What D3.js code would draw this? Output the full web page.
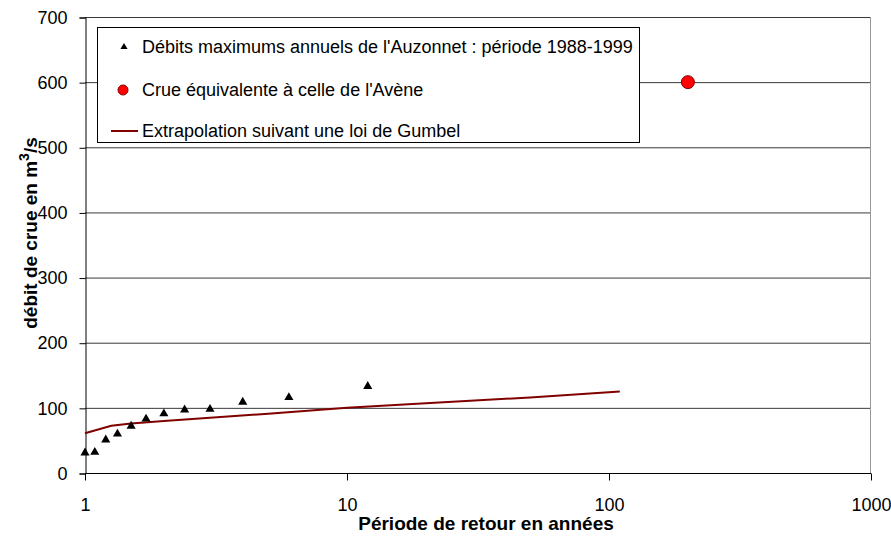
<!DOCTYPE html>
<html>
<head>
<meta charset="utf-8">
<script src="https://cdn.jsdelivr.net/npm/d3@7"></script>
<style>
  body { margin: 0; background: #fff; }
  text { font-family: "Liberation Sans", Arial, sans-serif; }
</style>
</head>
<body>
<script>
// Annual maximum flows (return period in years, flow in m3/s)
var obsPeriod = [1, 1.09, 1.2, 1.33, 1.5, 1.71, 2, 2.4, 3, 4, 6, 12];
var obsFlow = [31, 32, 51, 60, 72, 83, 91, 97, 98, 109, 116, 133];

// Equivalent flood (Avène)
var avenePeriod = [200];
var aveneFlow = [600];

// Gumbel extrapolation
var gumbelPeriod = [1, 1.26, 1.5, 2, 3, 5, 10, 20, 50, 110];
var gumbelFlow = [61, 72.5, 76, 80, 85, 91, 100, 107, 116, 125];

var xTicks = [1, 10, 100, 1000];
var yTicks = [0, 100, 200, 300, 400, 500, 600, 700];

var legendLabels = [
  "Débits maximums annuels de l'Auzonnet : période 1988-1999",
  "Crue équivalente à celle de l'Avène",
  "Extrapolation suivant une loi de Gumbel"
];

var width = 891, height = 536;
var margin = {left: 85, right: 20, top: 17, bottom: 63};

var svg = d3.select("body").append("svg")
    .attr("width", width)
    .attr("height", height);

var x = d3.scaleLog().domain([1, 1000]).range([margin.left, width - margin.right]);
var y = d3.scaleLinear().domain([0, 700]).range([height - margin.bottom, margin.top]);

// gridlines
svg.append("g")
  .selectAll("line")
  .data(yTicks.filter(function(d) { return d > 0; }))
  .enter().append("line")
    .attr("x1", x(1)).attr("x2", x(1000))
    .attr("y1", function(d) { return y(d) + 0.5; })
    .attr("y2", function(d) { return y(d) + 0.5; })
    .attr("stroke", "#3a3a3a");

// right border
svg.append("line")
  .attr("x1", x(1000) - 0.5).attr("x2", x(1000) - 0.5)
  .attr("y1", y(700)).attr("y2", y(0))
  .attr("stroke", "#999");

// y axis
var yAxis = svg.append("g")
  .attr("transform", "translate(" + (x(1) + 0.5) + ",0.5)")
  .call(d3.axisLeft(y).tickValues(yTicks).tickSize(6).tickPadding(12));

// x axis
var xAxis = svg.append("g")
  .attr("transform", "translate(0," + (y(0) + 0.5) + ")")
  .call(d3.axisBottom(x).tickValues(xTicks).tickFormat(d3.format("d")).tickSize(7).tickPadding(18));

[yAxis, xAxis].forEach(function(g) {
  g.select(".domain").attr("stroke", "#000");
  g.selectAll(".tick line").attr("stroke", "#000");
  g.selectAll(".tick text").style("font-size", "18px").attr("fill", "#000");
});
xAxis.select(".domain").attr("d", "M" + x(1) + ",0H" + x(1000));

// axis titles
svg.append("text")
  .attr("x", 486)
  .attr("y", 530)
  .attr("text-anchor", "middle")
  .style("font-size", "19px")
  .style("font-weight", "bold")
  .text("Période de retour en années");

var yTitle = svg.append("text")
  .attr("transform", "translate(37,233) rotate(-90)")
  .attr("text-anchor", "middle")
  .style("font-size", "19px")
  .style("font-weight", "bold");
yTitle.append("tspan").text("débit de crue en m");
yTitle.append("tspan").attr("dy", -8).style("font-size", "14px").text("3");
yTitle.append("tspan").attr("dy", 8).text("/s");

// Gumbel line
var gumbel = gumbelPeriod.map(function(t, i) { return [t, gumbelFlow[i]]; });
svg.append("path")
  .datum(gumbel)
  .attr("fill", "none")
  .attr("stroke", "#800000")
  .attr("stroke-width", 2)
  .attr("d", d3.line().x(function(d) { return x(d[0]); }).y(function(d) { return y(d[1]); }));

// observed points
var tri = d3.symbol().type(d3.symbolTriangle).size(36);
svg.append("g")
  .selectAll("path")
  .data(obsPeriod.map(function(t, i) { return [t, obsFlow[i]]; }))
  .enter().append("path")
    .attr("d", tri)
    .attr("transform", function(d) { return "translate(" + x(d[0]) + "," + y(d[1]) + ")"; })
    .attr("fill", "#000");

// Avène point
svg.append("g")
  .selectAll("circle")
  .data(avenePeriod.map(function(t, i) { return [t, aveneFlow[i]]; }))
  .enter().append("circle")
    .attr("cx", function(d) { return x(d[0]); })
    .attr("cy", function(d) { return y(d[1]); })
    .attr("r", 6.5)
    .attr("fill", "#ff0000")
    .attr("stroke", "#800000")
    .attr("stroke-width", 1);

// legend
var legend = svg.append("g");
legend.append("rect")
  .attr("x", 97.5).attr("y", 27.5)
  .attr("width", 542).attr("height", 115)
  .attr("fill", "#fff")
  .attr("stroke", "#000");

var rowY = [47, 90, 131];
legendLabels.forEach(function(lab, i) {
  legend.append("text")
    .attr("x", 142).attr("y", rowY[i])
    .attr("dy", "0.35em")
    .style("font-size", "18px")
    .text(lab);
});
legend.append("path")
  .attr("d", d3.symbol().type(d3.symbolTriangle).size(22))
  .attr("transform", "translate(124," + rowY[0] + ")")
  .attr("fill", "#000");
legend.append("circle")
  .attr("cx", 123).attr("cy", rowY[1]).attr("r", 5)
  .attr("fill", "#ff0000").attr("stroke", "#800000");
legend.append("line")
  .attr("x1", 111).attr("x2", 138)
  .attr("y1", rowY[2]).attr("y2", rowY[2])
  .attr("stroke", "#800000").attr("stroke-width", 2);
</script>
</body>
</html>
